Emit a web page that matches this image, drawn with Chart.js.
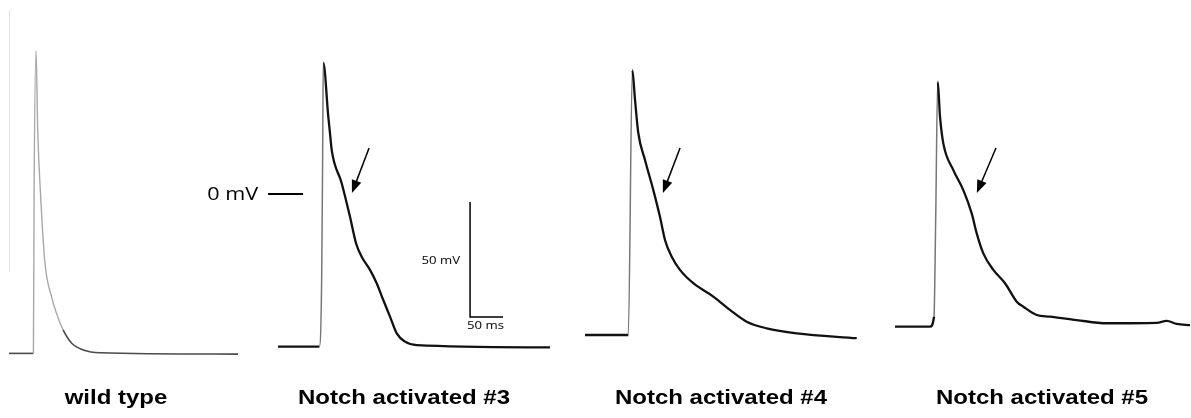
<!DOCTYPE html>
<html>
<head>
<meta charset="utf-8">
<script src="https://cdn.jsdelivr.net/npm/chart.js@4"></script>
<style>
  html, body { margin: 0; padding: 0; background: #fff; }
  #wrap { position: relative; width: 1191px; height: 418px; }
</style>
</head>
<body>
<div id="wrap"><canvas id="ap_cntxt" width="1191" height="418"></canvas></div>
<script>
// sweep time (ms from start of sweep) and membrane potential (mV)
var wtTime = [0, 37, 38, 41, 43.5, 48, 54.5, 64.5, 72, 82, 95, 112.5, 138, 347];
var wtVm   = [-69.3, -69.3, -1.2, 62.3, 27.8, -1.2, -30.1, -44.7, -51.9, -59.1, -64.9, -67.8, -69.0, -69.6];

var n3Time = [0, 62.6, 66.2, 67.7, 68.6, 76.2, 78.8, 81.4, 96.5, 109.1, 118.2, 126.8, 139.4, 149.5, 159.5, 169.7, 179.9, 192.4, 210.2, 412.1];
var n3Vm   = [-66.4, -66.4, -36.0, 19.1, 57.1, 33.6, 26.4, 19.1, 4.7, -9.9, -21.4, -27.3, -33.0, -38.8, -46.1, -53.3, -60.6, -64.2, -65.7, -66.7];

var n4Time = [0, 65.6, 71.7, 75.8, 80.8, 90.9, 103.5, 113.6, 121.2, 131.4, 143.9, 164.1, 194.4, 219.7, 245.0, 275.3, 320.8, 411.7];
var n4Vm   = [-61.3, -61.3, 53.9, 40.9, 26.4, 14.8, 1.7, -9.9, -20.0, -27.3, -33.0, -38.8, -44.6, -50.4, -55.5, -58.4, -60.6, -62.7];

var n5Time = [0, 53.0, 59.1, 61.7, 64.7, 68.2, 73.2, 88.4, 103.5, 116.2, 123.8, 133.8, 149.0, 166.7, 184.4, 194.4, 214.7, 234.8, 275.3, 320.8, 396.5, 411.7, 426.8, 447.0];
var n5Vm   = [-57.7, -57.7, -53.3, -9.9, 48.8, 33.6, 22.0, 10.4, 1.7, -8.4, -17.1, -25.8, -33.0, -38.8, -46.8, -49.0, -52.6, -53.3, -54.8, -56.2, -56.0, -55.2, -56.5, -57.0];

var panelLabels = ["wild type", "Notch activated #3", "Notch activated #4", "Notch activated #5"];

// arrows pointing at the notch: [tail ms, tail mV, tip ms, tip mV]
var notchArrows = [null, [138, 20, 112, 0.4], [144, 20, 118, 0.4], [153, 20, 124, 0.4]];

// scale bar (on panel #3)
var barMs = 50, barMv = 50, barAt = [291, -53.5];

// layout
var MS_PER_PX = 50 / 33, MV_PER_PX = 50 / 115;
var W = 1191, H = 418, zeroPx = 194;
var sweepLeft = [9, 278, 585, 895];     // px where each sweep starts
var labelCenter = [116, 404, 721, 1042];
var STRETCH = 1.2;                      // the figure text is stretched horizontally

function pts(t, v) {
    return t.map(function (x, i) { return { x: x, y: v[i] }; });
}

var traces = [pts(wtTime, wtVm), pts(n3Time, n3Vm), pts(n4Time, n4Vm), pts(n5Time, n5Vm)];

function isSteep(ctx, f) {
    return Math.abs(ctx.p1.y - ctx.p0.y) > Math.abs(ctx.p1.x - ctx.p0.x) * f;
}
function isUpstroke(ctx) {
    return ctx.p1.y < ctx.p0.y - 20 && isSteep(ctx, 4);
}

var datasets = traces.map(function (d, i) {
    return {
        data: d,
        xAxisID: 'x' + (i + 1),
        showLine: true,
        pointRadius: 0,
        borderWidth: i === 0 ? 1.5 : 2.2,
        borderColor: i === 0 ? '#9a9a9a' : '#111',
        cubicInterpolationMode: 'monotone',
        segment: {
            borderColor: function (ctx) {
                if (i === 0) return isSteep(ctx, 2) ? '#a8a8a8' : '#4a4a4a';
                return isUpstroke(ctx) ? '#777' : '#111';
            },
            borderWidth: function (ctx) {
                if (i === 0) return isSteep(ctx, 2) ? 1.4 : 1.6;
                return isUpstroke(ctx) ? 1.5 : 2.3;
            }
        }
    };
});

var scales = {
    y: { display: false, min: -(H - zeroPx) * MV_PER_PX, max: zeroPx * MV_PER_PX }
};
sweepLeft.forEach(function (s, i) {
    scales['x' + (i + 1)] = {
        type: 'linear', display: false,
        min: -s * MS_PER_PX, max: (W - s) * MS_PER_PX
    };
});

function stretchedText(ctx, txt, x, y, font, align) {
    ctx.save();
    ctx.font = font;
    ctx.textAlign = align;
    ctx.textBaseline = 'alphabetic';
    ctx.translate(x, y);
    ctx.scale(STRETCH, 1);
    ctx.fillText(txt, 0, 0);
    ctx.restore();
}

function arrow(ctx, x0, y0, x1, y1) {
    var a = Math.atan2(y1 - y0, x1 - x0), len = 13, hw = 5;
    ctx.beginPath();
    ctx.moveTo(x0, y0);
    ctx.lineTo(x1 - Math.cos(a) * len * 0.8, y1 - Math.sin(a) * len * 0.8);
    ctx.lineWidth = 1.5;
    ctx.stroke();
    ctx.beginPath();
    ctx.moveTo(x1, y1);
    ctx.lineTo(x1 - Math.cos(a) * len - Math.sin(a) * hw, y1 - Math.sin(a) * len + Math.cos(a) * hw);
    ctx.lineTo(x1 - Math.cos(a) * len + Math.sin(a) * hw, y1 - Math.sin(a) * len - Math.cos(a) * hw);
    ctx.closePath();
    ctx.fill();
}

var decor = {
    id: 'decor',
    beforeDatasetsDraw: function (chart) {
        var ctx = chart.ctx, y = chart.scales.y, x1 = chart.scales.x1;
        // faint edge line left of the wild type trace
        ctx.save();
        ctx.strokeStyle = '#e2e2e2';
        ctx.lineWidth = 1;
        ctx.beginPath();
        ctx.moveTo(Math.round(x1.getPixelForValue(0)) + 0.5, y.getPixelForValue(80));
        ctx.lineTo(Math.round(x1.getPixelForValue(0)) + 0.5, y.getPixelForValue(-34));
        ctx.stroke();
        ctx.restore();
    },
    afterDatasetsDraw: function (chart) {
        var ctx = chart.ctx, y = chart.scales.y, x2 = chart.scales.x2;
        ctx.save();
        ctx.strokeStyle = '#000';
        ctx.fillStyle = '#000';

        // 0 mV marker
        var y0 = y.getPixelForValue(0);
        var a = x2.getPixelForValue(-15), b = x2.getPixelForValue(38);
        ctx.lineWidth = 2;
        ctx.beginPath();
        ctx.moveTo(a, y0);
        ctx.lineTo(b, y0);
        ctx.stroke();
        stretchedText(ctx, '0 mV', a - 10, y0 + 6, '18px "Open Sans"', 'right');

        // scale bar
        var bx = x2.getPixelForValue(barAt[0]), by = y.getPixelForValue(barAt[1]);
        var bt = y.getPixelForValue(barAt[1] + barMv), br = x2.getPixelForValue(barAt[0] + barMs);
        ctx.lineWidth = 1.5;
        ctx.beginPath();
        ctx.moveTo(bx, bt);
        ctx.lineTo(bx, by);
        ctx.lineTo(br, by);
        ctx.stroke();
        stretchedText(ctx, barMv + ' mV', bx - 10, (bt + by) / 2 + 4, '11px "Open Sans"', 'right');
        stretchedText(ctx, barMs + ' ms', bx - 3, by + 12, '11px "Open Sans"', 'left');

        // notch arrows
        notchArrows.forEach(function (ar, i) {
            if (!ar) return;
            var xs = chart.scales['x' + (i + 1)];
            arrow(ctx, xs.getPixelForValue(ar[0]), y.getPixelForValue(ar[1]),
                       xs.getPixelForValue(ar[2]), y.getPixelForValue(ar[3]));
        });

        // panel labels
        panelLabels.forEach(function (t, i) {
            stretchedText(ctx, t, labelCenter[i], 404, 'bold 20px "Liberation Sans"', 'center');
        });
        ctx.restore();
    }
};

var current_cntxt = document.getElementById("ap_cntxt").getContext('2d');
var ap_chart = new Chart(current_cntxt, {
    type: 'scatter',
    data: { datasets: datasets },
    options: {
        responsive: false,
        animation: false,
        events: [],
        layout: { padding: 0 },
        plugins: { legend: { display: false }, tooltip: { enabled: false }, title: { display: false } },
        scales: scales
    },
    plugins: [decor]
});
</script>
</body>
</html>
